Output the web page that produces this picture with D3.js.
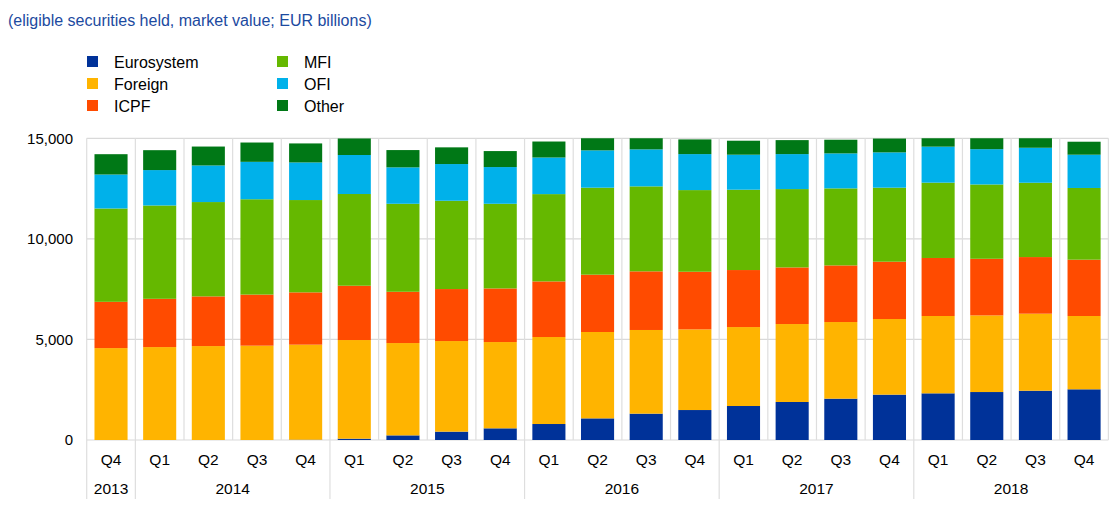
<!DOCTYPE html>
<html><head><meta charset="utf-8">
<script src="https://cdn.jsdelivr.net/npm/d3@7"></script>
<style>body{margin:0;background:#fff;} text{font-family:"Liberation Sans",Arial,sans-serif;}</style>
</head><body>
<svg id="c" width="1112" height="505"></svg>
<script>
const quarters = ["Q4","Q1","Q2","Q3","Q4","Q1","Q2","Q3","Q4","Q1","Q2","Q3","Q4","Q1","Q2","Q3","Q4","Q1","Q2","Q3","Q4"];
const years = ["2013","2014","2014","2014","2014","2015","2015","2015","2015","2016","2016","2016","2016","2017","2017","2017","2017","2018","2018","2018","2018"];
const seriesNames = ["Eurosystem","Foreign","ICPF","MFI","OFI","Other"];
const seriesColors = ["#003299","#ffb400","#ff4b00","#65b800","#00b1ea","#007816"];
const eurosystem = [0,0,0,0,15,65,230,415,580,795,1075,1310,1490,1690,1890,2055,2255,2320,2385,2450,2520];
const foreign = [4570,4620,4670,4690,4725,4905,4590,4505,4290,4325,4295,4160,4010,3925,3875,3810,3760,3845,3810,3830,3645];
const icpf = [2300,2400,2470,2540,2600,2700,2550,2585,2665,2765,2850,2915,2865,2835,2815,2815,2850,2885,2815,2815,2800];
const mfi = [4640,4640,4690,4740,4590,4560,4375,4390,4210,4340,4325,4225,4060,3995,3895,3830,3680,3745,3695,3695,3565];
const ofi = [1690,1760,1820,1860,1870,1940,1810,1825,1825,1820,1855,1840,1790,1740,1740,1740,1755,1790,1755,1740,1655];
const other = [1010,990,940,960,945,830,860,830,795,795,750,750,730,695,695,680,695,650,650,650,645];
const yTicks = [0,5000,10000,15000];
const title = "(eligible securities held, market value; EUR billions)";

const seriesValues = [eurosystem, foreign, icpf, mfi, ofi, other];
const rows = quarters.map((q,i)=>{const r={idx:i}; seriesNames.forEach((s,k)=>r[s]=seriesValues[k][i]); return r;});

const svg = d3.select("#c");
const L = 86.7, R = 1108.4, T = 138.3, B = 440;
const x = d3.scaleBand().domain(d3.range(quarters.length)).range([L,R]).paddingInner(0.32).paddingOuter(0.16);
const y = d3.scaleLinear().domain([0,15000]).range([B,T]);
const step = x.step();

svg.append("text").attr("x",8).attr("y",20).attr("dy","0.35em").attr("fill","#1c4aa0").attr("font-size","16px").text(title);

// legend
const lg = svg.append("g");
seriesNames.forEach((s,k)=>{
  const col = Math.floor(k/3), row = k%3;
  const lx = col===0 ? 87 : 277, ly = 62 + row*22;
  lg.append("rect").attr("x",lx).attr("y",ly-6).attr("width",11).attr("height",11).attr("fill",seriesColors[k]);
  lg.append("text").attr("x",col===0?114:304).attr("y",ly).attr("dy","0.35em").attr("font-size","16px").attr("fill","#000").text(s);
});

// gridlines
const grid = svg.append("g");
yTicks.forEach(t=>{
  grid.append("line").attr("x1",L).attr("x2",R).attr("y1",y(t)).attr("y2",y(t)).attr("stroke","#d9d9d9").attr("stroke-width",1.2);
});
d3.range(quarters.length+1).forEach(i=>{
  const xx = L + i*step;
  grid.append("line").attr("x1",xx).attr("x2",xx).attr("y1",T).attr("y2",B).attr("stroke","#dedede").attr("stroke-width",1.2);
});
years.forEach((yr,i)=>{
  if(i===0 || years[i-1]!==yr){
    const xx = L + i*step;
    grid.append("line").attr("x1",xx).attr("x2",xx).attr("y1",B).attr("y2",499).attr("stroke","#dedede").attr("stroke-width",1.2);
  }
});

// y labels
const ya = svg.append("g").attr("transform",`translate(73,0)`)
  .call(d3.axisLeft(y).tickValues(yTicks).tickSize(0).tickPadding(0).tickFormat(d3.format(",")));
ya.select(".domain").remove();
ya.selectAll("text").attr("font-size","15px").attr("fill","#000").attr("font-family","Liberation Sans, Arial, sans-serif");

// bars
svg.append("clipPath").attr("id","clip").append("rect").attr("x",L).attr("y",T).attr("width",R-L).attr("height",B-T);
const stack = d3.stack().keys(seriesNames)(rows);
const bars = svg.append("g").attr("clip-path","url(#clip)");
stack.forEach((layer,k)=>{
  bars.append("g").attr("fill",seriesColors[k]).selectAll("rect").data(layer).join("rect")
    .attr("x",d=>x(d.data.idx)).attr("width",x.bandwidth())
    .attr("y",d=>y(d[1])).attr("height",d=>Math.max(0,y(d[0])-y(d[1])));
});

// x labels
const xa = svg.append("g").attr("transform",`translate(0,${B})`)
  .call(d3.axisBottom(x).tickSize(0).tickPadding(0).tickFormat(i=>quarters[i]));
xa.select(".domain").remove();
xa.selectAll("text").attr("y",20).attr("dy","0.35em").attr("font-size","15.5px").attr("fill","#000").attr("font-family","Liberation Sans, Arial, sans-serif");

// year labels
const yearGroups = [];
years.forEach((yr,i)=>{
  if(i===0 || years[i-1]!==yr) yearGroups.push({yr, start:i, end:i});
  else yearGroups[yearGroups.length-1].end = i;
});
svg.append("g").selectAll("text").data(yearGroups).join("text")
  .attr("x",d=>(L + d.start*step + L + (d.end+1)*step)/2)
  .attr("y",488.5).attr("dy","0.35em").attr("text-anchor","middle").attr("font-size","15.5px").attr("fill","#000")
  .text(d=>d.yr);
</script>
</body></html>
